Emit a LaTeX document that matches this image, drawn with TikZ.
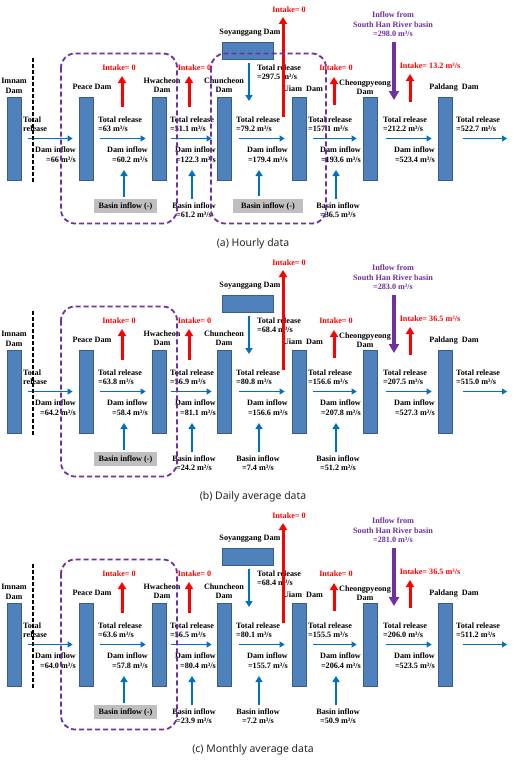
\documentclass[tikz,border=0pt]{standalone}
\usepackage{fontspec}
\setmainfont{Liberation Serif}
\newfontfamily\capfont{Noto Sans}
\usetikzlibrary{arrows.meta}
\definecolor{barfill}{HTML}{4F81BD}
\definecolor{barline}{HTML}{385D8A}
\definecolor{flowblue}{HTML}{0070C0}
\definecolor{intakered}{HTML}{FF0000}
\definecolor{hanpurple}{HTML}{7030A0}
\definecolor{basingray}{HTML}{BFBFBF}
\tikzset{
 dambar/.style={draw=barline, fill=barfill, line width=0.8bp, minimum width=14bp, minimum height=83bp, inner sep=0pt},
 lbl/.style={font=\bfseries\fontsize{8.2}{9.4}\selectfont, inner sep=0pt, text=black},
 trlbl/.style={lbl, anchor=west, align=left},
 dilbl/.style={lbl, anchor=east, align=right},
 inlbl/.style={lbl, text=intakered},
 hanlbl/.style={lbl, text=hanpurple, align=center},
 basinbox/.style={lbl, fill=basingray, minimum height=14bp},
 basinlbl/.style={lbl, align=center},
 flowarrow/.style={draw=flowblue, line width=1.6bp, -{Triangle[length=5bp,width=6bp]}},
 upflow/.style={draw=flowblue, line width=2bp, -{Triangle[length=6bp,width=7bp]}},
 intakearrow/.style={draw=intakered, line width=3bp, -{Triangle[length=7bp,width=8bp]}},
 hanarrow/.style={draw=hanpurple, line width=4bp, -{Triangle[length=9bp,width=10bp]}},
 groupbox/.style={draw=hanpurple, line width=1.8bp, dash pattern=on 5bp off 3bp, rounded corners=14bp},
 divider/.style={draw=black, line width=1.5bp, dash pattern=on 4bp off 2bp},
 captext/.style={font=\capfont\fontsize{10.5}{12}\selectfont, text=black!85, inner sep=0pt},
}
\newcommand\qv[1]{=#1 m³/s}
\newif\ifhourly
\newcommand\dampanel[3]{%
\begin{scope}[shift={(0,#2)}]
 % dams
 \node[dambar] (im#1) at (14,138.5) {};
 \node[dambar] (pe#1) at (86,138.5) {};
 \node[dambar] (hw#1) at (159,138.5) {};
 \node[dambar] (ch#1) at (224,138.5) {};
 \node[dambar] (ui#1) at (299,138.5) {};
 \node[dambar] (cp#1) at (370,138.5) {};
 \node[dambar] (pd#1) at (445,138.5) {};
 \node[dambar, minimum width=51bp, minimum height=17bp] (so#1) at (247.5,50.5) {};
 % dam names
 \node[lbl, align=center] (imL#1) at (14,86) {Imnam\\Dam};
 \node[lbl] (peL#1) at (92,87) {Peace Dam};
 \node[lbl, align=center] (hwL#1) at (162,85.5) {Hwacheon\\Dam};
 \node[lbl, align=center] (chL#1) at (224,85.5) {Chuncheon\\Dam};
 \node[lbl] (soL#1) at (250,33) {Soyanggang Dam};
 \node[lbl] (uiL#1) at (303,89) {Uiam\ \ Dam};
 \node[lbl, align=center] (cpL#1) at (365,87) {Cheongpyeong\\Dam};
 \node[lbl] (pdL#1) at (454,88) {Paldang\ \ Dam};
 % total release labels
 \node[trlbl] (imT#1) at (23,124) {Total\\release};
 \node[trlbl] (peT#1) at (98,124) {Total release\\\qv{\vPeTR}};
 \node[trlbl] (hwT#1) at (170,124) {Total release\\\qv{\vHwTR}};
 \node[trlbl] (chT#1) at (236,124) {Total release\\\qv{\vChTR}};
 \node[trlbl] (uiT#1) at (308,124) {Total release\\\qv{\vUiTR}};
 \node[trlbl] (cpT#1) at (383,124) {Total release\\\qv{\vCpTR}};
 \node[trlbl] (pdT#1) at (456,124) {Total release\\\qv{\vPdTR}};
 \node[trlbl] (soT#1) at (257,72) {Total release\\\qv{\vSoTR}};
 % dam inflow labels
 \node[dilbl] (peD#1) at (76,154.5) {Dam inflow\\\qv{\vImDI}};
 \node[dilbl] (hwD#1) at (148,154.5) {Dam inflow\\\qv{\vPeDI}};
 \node[dilbl] (chD#1) at (216,154.5) {Dam inflow\\\qv{\vHwDI}};
 \node[dilbl] (uiD#1) at (288,154.5) {Dam inflow\\\qv{\vChDI}};
 \node[dilbl] (cpD#1) at (361,154.5) {Dam inflow\\\qv{\vUiDI}};
 \node[dilbl] (pdD#1) at (435,154.5) {Dam inflow\\\qv{\vCpDI}};
 % main flow
 \coordinate (out#1) at (507,138.5);
 \draw[flowarrow, shorten <=7bp, shorten >=6bp] (im#1.east) -- (pe#1.west);
 \draw[flowarrow, shorten <=7bp, shorten >=6bp] (pe#1.east) -- (hw#1.west);
 \draw[flowarrow, shorten <=5bp, shorten >=5bp] (hw#1.east) -- (ch#1.west);
 \draw[flowarrow, shorten <=8bp, shorten >=7bp] (ch#1.east) -- (ui#1.west);
 \draw[flowarrow, shorten <=7bp, shorten >=6bp] (ui#1.east) -- (cp#1.west);
 \draw[flowarrow, shorten <=9bp, shorten >=6bp] (cp#1.east) -- (pd#1.west);
 \draw[flowarrow, shorten <=11bp] (pd#1.east) -- (out#1);
 % Soyanggang release
 \coordinate (sd#1) at (249,101);
 \draw[upflow, shorten <=4bp] (so#1.south -| sd#1) -- (sd#1);
 % intakes
 \node[inlbl] (in1#1) at (119,68) {Intake= 0};
 \node[inlbl] (in2#1) at (194.5,68) {Intake= 0};
 \node[inlbl] (in3#1) at (289,10) {Intake= 0};
 \node[inlbl] (in4#1) at (336,68) {Intake= 0};
 \node[inlbl] (in5#1) at (430,66) {Intake= \vCpIn{} m³/s};
 \coordinate (i1a#1) at (122,107); \coordinate (i1b#1) at (122,76);
 \coordinate (i2a#1) at (189,107); \coordinate (i2b#1) at (189,76);
 \coordinate (i3a#1) at (283,117); \coordinate (i3b#1) at (283,17);
 \coordinate (i4a#1) at (334,105); \coordinate (i4b#1) at (334,77);
 \coordinate (i5a#1) at (410,102); \coordinate (i5b#1) at (410,74);
 \draw[intakearrow] (i1a#1) -- (i1b#1);
 \draw[intakearrow] (i2a#1) -- (i2b#1);
 \draw[intakearrow] (i3a#1) -- (i3b#1);
 \draw[intakearrow] (i4a#1) -- (i4b#1);
 \draw[intakearrow] (i5a#1) -- (i5b#1);
 % South Han inflow
 \node[hanlbl] (sh#1) at (393,24.5) {Inflow from\\South Han River basin\\\qv{\vSH}};
 \coordinate (ph#1) at (394,100);
 \draw[hanarrow, shorten <=5bp] (sh#1.south -| ph#1) -- (ph#1);
 % basin inflows
 \node[basinbox, minimum width=63bp] (b1#1) at (125.5,206) {Basin inflow (-)};
 \node[basinlbl] (b2#1) at (194,210) {Basin inflow\\\qv{\vHwBI}};
 \ifhourly
  \node[basinbox, minimum width=70bp] (b3#1) at (268,206) {Basin inflow (-)};
 \else
  \node[basinlbl] (b3#1) at (258,210) {Basin inflow\\\qv{\vChBI}};
 \fi
 \node[basinlbl] (b4#1) at (338,210) {Basin inflow\\\qv{\vUiBI}};
 \coordinate (u1#1) at (124,170);
 \coordinate (u2#1) at (192,170);
 \coordinate (u3#1) at (259,170);
 \coordinate (u4#1) at (336,170);
 \draw[upflow, shorten <=2bp] (b1#1.north -| u1#1) -- (u1#1);
 \draw[upflow, shorten <=3bp] (b2#1.north -| u2#1) -- (u2#1);
 \draw[upflow, shorten <=3bp] (b3#1.north -| u3#1) -- (u3#1);
 \draw[upflow, shorten <=3bp] (b4#1.north -| u4#1) -- (u4#1);
 % divider and groups
 \draw[divider] (33,58) -- (33,182);
 \draw[groupbox] (61,53.5) rectangle (177,223.5);
 \ifhourly
  \draw[groupbox] (211,53.5) rectangle (326,223.5);
 \fi
 \node[captext] (cap#1) at (253,244) {#3};
\end{scope}}

\begin{document}
\begin{tikzpicture}[x=1bp,y=-1bp]
\useasboundingbox[fill=white] (0,0) rectangle (514,760);
% (a) hourly
\hourlytrue
\def\vImDI{66}\def\vPeTR{63}\def\vPeDI{60.2}
\def\vHwTR{51.1}\def\vHwDI{122.3}\def\vHwBI{61.2}
\def\vSoTR{297.5}\def\vChTR{79.2}\def\vChDI{179.4}\def\vChBI{}
\def\vUiTR{157.1}\def\vUiDI{193.6}\def\vUiBI{36.5}
\def\vSH{298.0}\def\vCpTR{212.2}\def\vCpDI{523.4}\def\vCpIn{13.2}
\def\vPdTR{522.7}
\dampanel{a}{0}{(a) Hourly data}
% (b) daily
\hourlyfalse
\def\vImDI{64.2}\def\vPeTR{63.8}\def\vPeDI{58.4}
\def\vHwTR{56.9}\def\vHwDI{81.1}\def\vHwBI{24.2}
\def\vSoTR{68.4}\def\vChTR{80.8}\def\vChDI{156.6}\def\vChBI{7.4}
\def\vUiTR{156.6}\def\vUiDI{207.8}\def\vUiBI{51.2}
\def\vSH{283.0}\def\vCpTR{207.5}\def\vCpDI{527.3}\def\vCpIn{36.5}
\def\vPdTR{515.0}
\dampanel{b}{253}{(b) Daily average data}
% (c) monthly
\def\vImDI{64.0}\def\vPeTR{63.6}\def\vPeDI{57.8}
\def\vHwTR{56.5}\def\vHwDI{80.4}\def\vHwBI{23.9}
\def\vSoTR{68.4}\def\vChTR{80.1}\def\vChDI{155.7}\def\vChBI{7.2}
\def\vUiTR{155.5}\def\vUiDI{206.4}\def\vUiBI{50.9}
\def\vSH{281.0}\def\vCpTR{206.0}\def\vCpDI{523.5}\def\vCpIn{36.5}
\def\vPdTR{511.2}
\dampanel{c}{506}{(c) Monthly average data}
\end{tikzpicture}
\end{document}
